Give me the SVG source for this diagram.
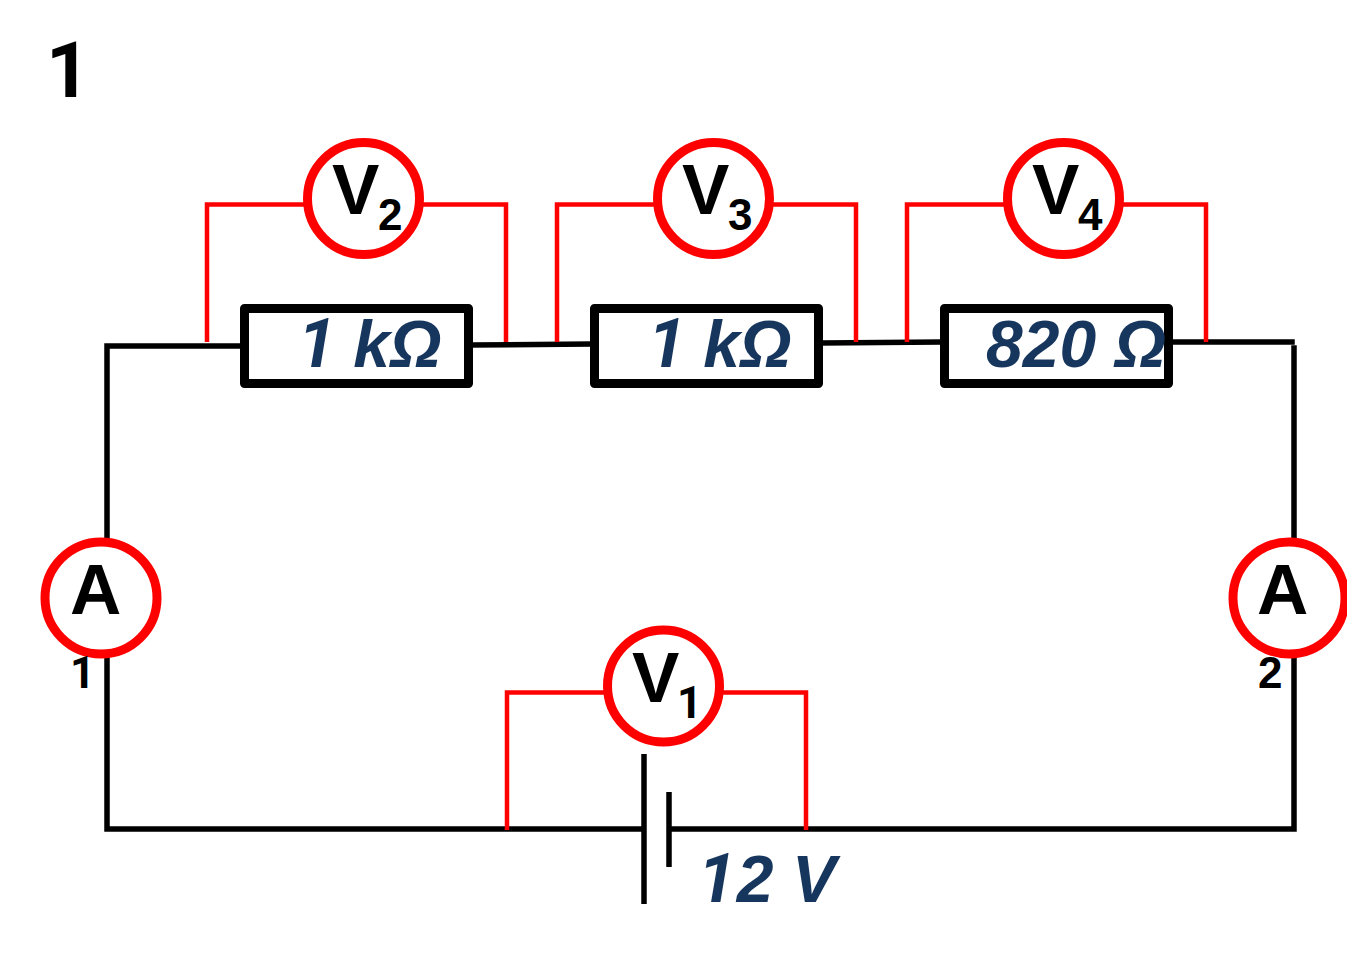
<svg xmlns="http://www.w3.org/2000/svg" width="1347" height="956" viewBox="0 0 1347 956">
<style>
text{font-family:"Liberation Sans",Arial,sans-serif;font-weight:bold}
.d{font-family:Roboto,"Liberation Sans",sans-serif}
.k{stroke:#000;stroke-width:5.5;fill:none;stroke-linecap:square}
.r{stroke:#f00;stroke-width:4.5;fill:none;stroke-linecap:butt}
.m{fill:#fff;stroke:#f00;stroke-width:9}
.b{fill:#fff;stroke:#000;stroke-width:9;stroke-linejoin:round}
.v{font-size:71px;fill:#000}
.s{font-size:44px;fill:#000}
.o{font-size:66px;font-style:italic;fill:#17365d}
</style>
<rect width="1347" height="956" fill="#fff"/>
<text class="d" x="46" y="97" font-size="77" fill="#000">1</text>
<g id="connectors">
<path class="k" d="M107 540V346L242 346M472 345L592 344M822 343L942 342M1172 342H1292M1294 348V540M107 655V829H641M672 829H1294V655"/>
<path class="k" style="stroke-linecap:butt" d="M644 754V904M669 792V867"/>
<path class="r" d="M207 342V204.500H305M423 204.500H506V342M557 342V204.500H655M773 204.500H856V342M907 342V204.500H1005M1123 204.500H1206V342M507 830V692.500H605M723 692.500H806V830"/>
</g>
<g id="R1"><rect class="b" x="244.500" y="308.500" width="224" height="75"/><text class="o" x="298" y="367"><tspan class="d" font-size="68">1</tspan><tspan dx="-1"> kΩ</tspan></text></g>
<g id="R2"><rect class="b" x="594.500" y="308.500" width="224" height="75"/><text class="o" x="648" y="367"><tspan class="d" font-size="68">1</tspan><tspan dx="-1"> kΩ</tspan></text></g>
<g id="R3"><rect class="b" x="944.500" y="308.500" width="224" height="75"/><text class="o" x="986" y="367">820 Ω</text></g>
<g id="V2"><circle class="m" cx="363.500" cy="198.500" r="56"/><text class="v" x="332" y="214">V</text><text class="s" x="378" y="230">2</text></g>
<g id="V3"><circle class="m" cx="713.500" cy="198.500" r="56"/><text class="v" x="682" y="214">V</text><text class="s" x="728" y="230">3</text></g>
<g id="V4"><circle class="m" cx="1063.500" cy="198.500" r="56"/><text class="v" x="1032" y="214">V</text><text class="s" x="1078" y="230">4</text></g>
<g id="V1"><circle class="m" cx="663.500" cy="686" r="56"/><text class="v" x="632" y="702">V</text><text class="s d" x="677" y="718">1</text></g>
<g id="A1"><circle class="m" cx="101" cy="598" r="56"/><text class="v" x="70" y="614">A</text><text class="s d" x="70" y="688">1</text></g>
<g id="A2"><circle class="m" cx="1289" cy="598" r="56"/><text class="v" x="1257" y="614">A</text><text class="s" x="1258" y="688">2</text></g>
<text class="o" x="698" y="902"><tspan class="d" font-size="68">1</tspan><tspan dx="1">2 V</tspan></text>
</svg>
